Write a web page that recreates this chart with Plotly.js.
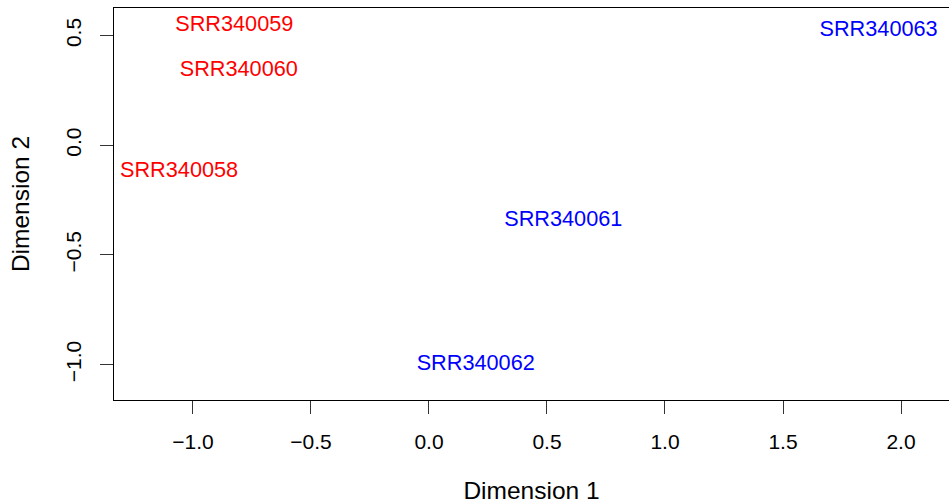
<!DOCTYPE html>
<html>
<head>
<meta charset="utf-8">
<script src="https://cdn.plot.ly/plotly-3.0.1.min.js"></script>
<style>html,body{margin:0;padding:0;background:#fff;}#plot{width:949px;height:504px;}</style>
</head>
<body>
<div id="plot"></div>
<script>
// Sample labels and MDS coordinates
const samples = ["SRR340058", "SRR340059", "SRR340060", "SRR340061", "SRR340062", "SRR340063"];
const dim1 = [-1.059, -0.825, -0.806, 0.569, 0.198, 1.905];
const dim2 = [-0.118, 0.547, 0.339, -0.343, -1.001, 0.522];
const groupColors = ["#FF0000", "#FF0000", "#FF0000", "#0000FF", "#0000FF", "#0000FF"];
const xTicks = [-1.0, -0.5, 0.0, 0.5, 1.0, 1.5, 2.0];
const yTicks = [-1.0, -0.5, 0.0, 0.5];

const FONT = "Liberation Sans, Arial, Helvetica, sans-serif";

const trace = {
  x: dim1,
  y: dim2,
  text: samples,
  mode: "text",
  type: "scatter",
  textposition: "middle center",
  textfont: {family: FONT, size: 21.7, color: groupColors},
  hoverinfo: "text",
  showlegend: false
};

const axisCommon = {
  showgrid: false,
  zeroline: false,
  showline: true,
  mirror: true,
  linecolor: "#000",
  linewidth: 1,
  ticks: "outside",
  ticklen: 13,
  tickwidth: 1,
  tickcolor: "#333",
  tickfont: {family: FONT, size: 21, color: "#000"},
  tickformat: ".1f",
  automargin: false,
  tickmode: "array"
};

const layout = {
  width: 949,
  height: 504,
  margin: {l: 114, r: 0, t: 8, b: 104},
  paper_bgcolor: "#fff",
  plot_bgcolor: "#fff",
  font: {family: FONT, size: 21, color: "#000"},
  xaxis: Object.assign({}, axisCommon, {
    range: [-1.3347, 2.2034],
    tickvals: xTicks,
    ticklabelstandoff: 10,
    title: {text: "Dimension 1", font: {family: FONT, size: 24.5, color: "#000"}, standoff: 29}
  }),
  yaxis: Object.assign({}, axisCommon, {
    range: [-1.1614, 0.626],
    tickvals: yTicks,
    tickangle: -90,
    ticklabelstandoff: 11,
    title: {text: "Dimension 2", font: {family: FONT, size: 24.5, color: "#000"}, standoff: 25}
  })
};

Plotly.newPlot("plot", [trace], layout, {displayModeBar: false, staticPlot: true});
</script>
</body>
</html>
